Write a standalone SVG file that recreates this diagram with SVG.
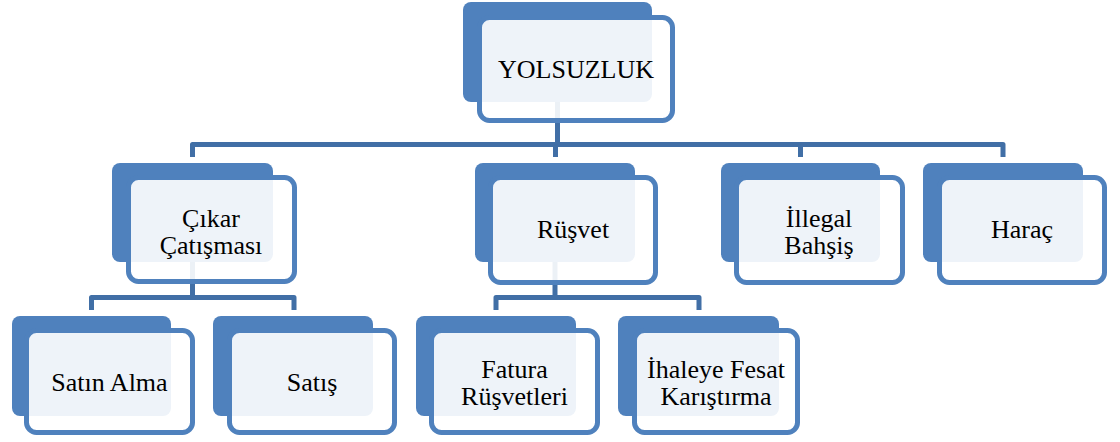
<svg xmlns="http://www.w3.org/2000/svg" width="1120" height="442" viewBox="0 0 1120 442">
<style>
.back{fill:#4F81BD}
.frame{fill:#FFFFFF;fill-opacity:0.9;stroke:#4F81BD;stroke-width:5}
.conn{fill:none;stroke:#416FA6;stroke-width:5;stroke-linejoin:round}
.lbl{font-family:'Liberation Serif','DejaVu Serif','Times New Roman',serif;font-size:26px;fill:#000000;text-anchor:middle}
</style>
<rect width="1120" height="442" fill="#FFFFFF"/>
<g id="connectors">
<path class="conn" d="M557.5 100 V144.5"/>
<path class="conn" d="M192.5 157 V144.5 H1003 V157"/>
<path class="conn" d="M555.5 144.5 V157"/>
<path class="conn" d="M800.5 144.5 V157"/>
<path class="conn" d="M192.5 260 V297.5"/>
<path class="conn" d="M91.5 310 V297.5 H294 V310"/>
<path class="conn" d="M555 260 V297.5"/>
<path class="conn" d="M496 310 V297.5 H699 V310"/>
</g>
<g font-family="Liberation Serif, DejaVu Serif, serif" font-size="26">
<g id="node-yolsuzluk">
<rect class="back" x="463" y="2" width="189" height="100" rx="8"/>
<rect class="frame" x="479.5" y="17.5" width="193" height="103" rx="10"/>
<text class="lbl" x="576" y="78">YOLSUZLUK</text>
</g>
<g id="node-cikar">
<rect class="back" x="112" y="163" width="161" height="99" rx="8"/>
<rect class="frame" x="128.5" y="177.5" width="166" height="104" rx="10"/>
<text class="lbl" x="211" y="226.5">Çıkar</text>
<text class="lbl" x="211" y="253.5">Çatışması</text>
</g>
<g id="node-rusvet">
<rect class="back" x="475" y="163" width="160" height="99" rx="8"/>
<rect class="frame" x="490.5" y="177.5" width="165" height="105" rx="10"/>
<text class="lbl" x="573" y="237.5">Rüşvet</text>
</g>
<g id="node-illegal">
<rect class="back" x="721" y="163" width="159" height="99" rx="8"/>
<rect class="frame" x="736.5" y="177.5" width="166" height="105" rx="10"/>
<text class="lbl" x="819" y="226.5">İllegal</text>
<text class="lbl" x="819" y="253.5">Bahşiş</text>
</g>
<g id="node-harac">
<rect class="back" x="923" y="163" width="160" height="99" rx="8"/>
<rect class="frame" x="939.5" y="177.5" width="165" height="105" rx="10"/>
<text class="lbl" x="1022" y="237.5">Haraç</text>
</g>
<g id="node-satinalma">
<rect class="back" x="12" y="316" width="159" height="100" rx="8"/>
<rect class="frame" x="26.5" y="330.5" width="166" height="102" rx="10"/>
<text class="lbl" x="109.5" y="391">Satın Alma</text>
</g>
<g id="node-satis">
<rect class="back" x="213" y="316" width="160" height="100" rx="8"/>
<rect class="frame" x="229.5" y="330.5" width="165" height="102" rx="10"/>
<text class="lbl" x="312" y="391">Satış</text>
</g>
<g id="node-fatura">
<rect class="back" x="416" y="316" width="160" height="100" rx="8"/>
<rect class="frame" x="431.5" y="330.5" width="166" height="102" rx="10"/>
<text class="lbl" x="514.5" y="378">Fatura</text>
<text class="lbl" x="514.5" y="405">Rüşvetleri</text>
</g>
<g id="node-ihaleye">
<rect class="back" x="618" y="316" width="161" height="100" rx="8"/>
<rect class="frame" x="634.5" y="330.5" width="163" height="102" rx="10"/>
<text class="lbl" x="716" y="378">İhaleye Fesat</text>
<text class="lbl" x="716" y="405">Karıştırma</text>
</g>
</g>
</svg>
